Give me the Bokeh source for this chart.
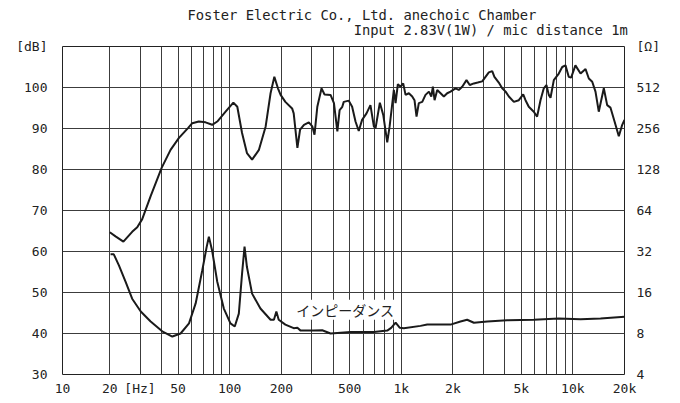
from bokeh.plotting import figure
from bokeh.models import (Range1d, LogScale, LogAxis, FixedTicker, Label, Title)
from bokeh.embed import file_html
from bokeh.resources import INLINE

# ---------------- data ----------------
spl_freq = [20, 21.6, 24, 27, 28.9, 30.9, 34.6, 40.1, 45.2, 50.6, 57.1, 60.5, 66, 72.3, 79,
            84.6, 94.6, 105, 110.7, 118, 126, 135, 148, 162, 173, 182, 191, 198, 211, 231,
            236, 248, 257, 271, 289, 303, 312, 324, 343, 357, 387, 405, 424, 437, 453, 462,
            494, 517, 541, 565, 591, 627, 661, 692, 708, 750, 785, 828, 855, 880, 905, 926,
            955, 990, 1026, 1059, 1107, 1158, 1194, 1227, 1265, 1325, 1384, 1449, 1496, 1528,
            1563, 1620, 1694, 1770, 1852, 1937, 2070, 2163, 2265, 2399, 2506, 2650, 2790,
            2963, 3097, 3237, 3388, 3490, 3700, 3873, 4055, 4236, 4530, 4842, 5136, 5297,
            5535, 5920, 6190, 6477, 6770, 7015, 7240, 7410, 7745, 8280, 8670, 9060, 9460,
            9770, 10350, 11090, 11860, 12390, 12970, 13550, 14160, 15150, 15850, 16560,
            17500, 18530, 19400, 20000]
spl_db = [64.7, 63.7, 62.4, 64.8, 65.9, 67.9, 73.5, 80.4, 84.8, 87.7, 90.1, 91.3, 91.7, 91.5, 90.9,
          91.7, 94.1, 96.3, 95.3, 88.9, 84.0, 82.4, 84.8, 90.5, 98.6, 102.6, 99.8, 98.2, 96.5, 94.9,
          93.7, 85.3, 89.7, 90.9, 91.5, 90.5, 88.5, 95.3, 99.8, 98.3, 98.2, 96.2, 89.3, 94.5, 95.3, 96.5,
          96.8, 95.3, 91.7, 89.4, 92.1, 93.7, 95.7, 90.5, 90.1, 96.3, 93.3, 86.6, 90.5, 95.0, 99.4, 96.2,
          100.8, 100.2, 101.0, 98.2, 98.6, 97.8, 96.9, 92.9, 96.2, 96.5, 98.2, 99.0, 97.8, 100.2,
          96.9, 99.4, 98.6, 97.8, 98.6, 99.0, 99.8, 99.4, 100.2, 101.8, 100.6, 101.0, 101.2,
          101.5, 102.6, 103.7, 104.0, 102.6, 101.2, 99.8, 99.0, 97.8, 96.5, 96.9, 98.3, 96.9,
          95.3, 94.1, 92.9, 96.9, 99.8, 100.6, 98.2, 97.5, 101.8, 103.4, 105.0, 105.4, 102.6,
          102.4, 105.4, 103.4, 104.5, 102.2, 101.4, 99.0, 94.1, 99.8, 95.7, 95.1,
          91.7, 88.1, 90.9, 92.1]

imp_freq = [20.2, 21.1, 22.6, 24.7, 27, 30.3, 34.6, 40.4, 46.3, 51.7, 57.9, 63.3, 69.2, 73.3,
            75.6, 79, 84.6, 92.4, 101, 107, 113, 118, 122, 126, 135, 151, 173, 181, 187, 193,
            211, 236, 248, 259, 308, 346, 387, 443, 506, 692, 828, 873, 927, 981, 1035, 1294,
            1416, 1937, 2213, 2420, 2650, 3170, 4140, 5920, 8260, 11090, 14500, 20000]
imp_ohm = [30.5, 30.5, 25.3, 19.2, 14.4, 11.6, 9.8, 8.3, 7.6, 8.0, 9.5, 13.3, 23.3, 34.3,
           41.1, 32.4, 19.2, 12.2, 9.5, 9.0, 11.2, 22.0, 34.8, 24.6, 15.7, 12.2, 10.1, 10.1, 11.6, 10.1,
           9.3, 8.75, 8.8, 8.4, 8.4, 8.45, 8.0, 8.1, 8.2, 8.2, 8.4, 8.8, 9.6, 8.8, 8.75, 9.1,
           9.3, 9.3, 9.8, 10.1, 9.6, 9.8, 10.0, 10.1, 10.3, 10.2, 10.3, 10.6]

x_start = 10.6   # left frame edge (labelled "10")
x_end = 20000
xtick_vals = [x_start, 20, 30, 50, 100, 200, 500, 1000, 2000, 5000, 10000, 20000]
xtick_labels = ["10", "20", "[Hz]", "50", "100", "200", "500", "1k", "2k", "5k", "10k", "20k"]
xgrid_vals = [20, 30, 40, 50, 60, 70, 80, 90, 100, 200, 300, 400, 500, 600, 700, 800, 900,
              1000, 2000, 3000, 4000, 5000, 6000, 7000, 8000, 9000, 10000]

db_ticks = [30, 40, 50, 60, 70, 80, 90, 100, 110]
db_labels = ["30", "40", "50", "60", "70", "80", "90", "100", "[dB]"]
ohm_ticks = [4, 8, 16, 32, 64, 128, 256, 512, 1024]
ohm_labels = ["4", "8", "16", "32", "64", "128", "256", "512", "[Ω]"]

title1 = "Foster Electric Co., Ltd. anechoic Chamber"
title2 = "Input 2.83V(1W) / mic distance 1m"
imp_name = "インピーダンス"

FONT = "DejaVu Sans Mono"
LINE = "#1a1a1a"
GRID = "#3c3c3c"

p = figure(width=672, height=398, output_backend="svg", toolbar_location=None,
           x_axis_type="log", x_range=Range1d(x_start, x_end), y_range=Range1d(30, 110),
           min_border_left=62, min_border_right=48, min_border_top=46, min_border_bottom=22,
           background_fill_color="white", border_fill_color="white")
p.outline_line_color = "#222222"
p.outline_line_width = 1

p.extra_y_ranges = {"z": Range1d(4, 1024)}
p.extra_y_scales = {"z": LogScale()}

# grids
p.xgrid.ticker = FixedTicker(ticks=xgrid_vals)
p.ygrid.ticker = FixedTicker(ticks=db_ticks[1:-1])
for g in (p.xgrid, p.ygrid):
    g.grid_line_color = GRID
    g.grid_line_width = 1
    g.grid_line_alpha = 1.0

# bottom axis
xa = p.xaxis[0]
xa.ticker = FixedTicker(ticks=xtick_vals)
xa.major_label_overrides = {v: l for v, l in zip(xtick_vals, xtick_labels)}
xa.major_label_standoff = 6

# left axis
ya = p.yaxis[0]
ya.ticker = FixedTicker(ticks=db_ticks)
ya.major_label_overrides = {v: l for v, l in zip(db_ticks, db_labels)}
ya.major_label_standoff = 15

# right axis
ra = LogAxis(y_range_name="z", ticker=FixedTicker(ticks=ohm_ticks))
ra.major_label_overrides = {v: l for v, l in zip(ohm_ticks, ohm_labels)}
ra.major_label_standoff = 12
p.add_layout(ra, "right")

for ax in (xa, ya, ra):
    ax.axis_line_color = None
    ax.major_tick_line_color = None
    ax.minor_tick_line_color = None
    ax.major_tick_out = 0
    ax.major_tick_in = 0
    ax.minor_tick_out = 0
    ax.minor_tick_in = 0
    ax.major_label_text_font = FONT
    ax.major_label_text_font_size = "13px"
    ax.major_label_text_color = "#222222"

# curves
p.line(spl_freq, spl_db, line_color=LINE, line_width=2)
p.line(imp_freq, imp_ohm, y_range_name="z", line_color=LINE, line_width=2)

# impedance label
p.add_layout(Label(x=244, y=45.8, text=imp_name, text_align="left", text_baseline="middle",
                   text_font="Noto Sans CJK JP", text_font_size="14px", text_color="#222222",
                   background_fill_color="white"))

# two-line heading (second line indented with no-break spaces, monospace font)
heading = title1 + "\n" + "\u00a0" * 20 + title2
p.add_layout(Title(text=heading, align="left", offset=125, standoff=13, vertical_align="top",
                   text_font=FONT, text_font_size="13.8px", text_font_style="normal",
                   text_line_height=0.94, text_color="#222222"), "above")

open("out.html", "w").write(file_html(p, INLINE))
